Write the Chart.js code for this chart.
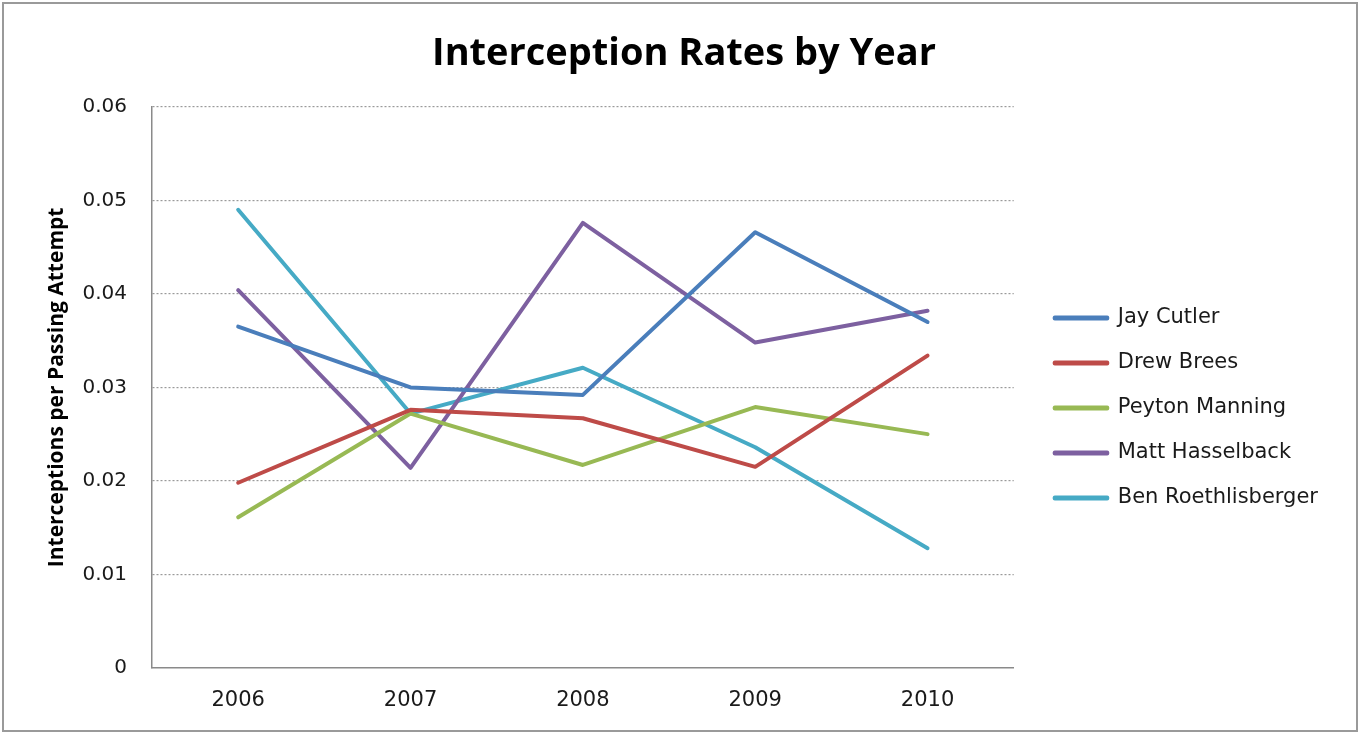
<!DOCTYPE html>
<html>
<head>
<meta charset="utf-8">
<title>Interception Rates by Year</title>
<script src="https://cdn.jsdelivr.net/npm/chart.js@4.4.1/dist/chart.umd.min.js"></script>
<style>
    html, body { margin: 0; padding: 0; background: #fff; overflow: hidden; }
    #wrap { position: relative; width: 1360px; height: 734px; }
    #frame {
        position: absolute; left: 2px; top: 2px; width: 1356px; height: 730px;
        box-sizing: border-box; border: 2px solid #9a9a9a; pointer-events: none;
    }
</style>
</head>
<body>
<div id="wrap">
    <canvas id="chart" width="1360" height="734"></canvas>
    <div id="frame"></div>
</div>
<script>
// Values
const years = ['2006', '2007', '2008', '2009', '2010'];
const yTickLabels = ['0', '0.01', '0.02', '0.03', '0.04', '0.05', '0.06'];

const jayCutler = [0.0365, 0.0300, 0.0292, 0.0466, 0.0370];
const drewBrees = [0.0198, 0.0276, 0.0267, 0.0215, 0.0334];
const peytonManning = [0.0161, 0.0272, 0.0217, 0.0279, 0.0250];
const mattHasselback = [0.0404, 0.0214, 0.0476, 0.0348, 0.0382];
const benRoethlisberger = [0.0490, 0.0272, 0.0321, 0.0236, 0.0128];

const TEXT_FONT = '"DejaVu Sans", sans-serif';
const HEAD_FONT = '"Open Sans", sans-serif';

function series(label, data, color) {
    return {
        label,
        data,
        borderColor: color,
        backgroundColor: color,
        borderWidth: 4,
        borderCapStyle: 'round',
        borderJoinStyle: 'round',
        pointRadius: 0,
        pointHoverRadius: 0,
        tension: 0,
    };
}

new Chart(document.getElementById('chart').getContext('2d'), {
    type: 'line',
    data: {
        labels: years,
        datasets: [
            series('Jay Cutler', jayCutler, '#4a7ebb'),
            series('Drew Brees', drewBrees, '#be4b48'),
            series('Peyton Manning', peytonManning, '#98b954'),
            series('Matt Hasselback', mattHasselback, '#7d60a0'),
            series('Ben Roethlisberger', benRoethlisberger, '#46aac5'),
        ],
    },
    options: {
        responsive: false,
        animation: false,
        layout: { padding: { left: 40, right: 32, top: 0, bottom: 1 } },
        plugins: {
            title: {
                display: true,
                text: 'Interception Rates by Year',
                color: '#000',
                font: { family: HEAD_FONT, size: 38, weight: 'bold' },
                padding: { top: 31, bottom: 30.4 },
            },
            legend: {
                position: 'right',
                maxWidth: 330,
                // empty title only pushes the centred items down, like the Excel legend
                title: { display: true, text: '', font: { size: 10 }, padding: { top: 71, bottom: 0 } },
                labels: {
                    color: '#1a1a1a',
                    font: { family: TEXT_FONT, size: 21 },
                    boxWidth: 52.5,
                    boxHeight: 1,
                    padding: 24,
                },
            },
            tooltip: { enabled: false },
        },
        scales: {
            x: {
                offset: true,
                grid: { display: false, drawTicks: false },
                border: { display: true, color: '#8a8a8a', width: 1.5 },
                ticks: { color: '#1a1a1a', font: { family: TEXT_FONT, size: 21 }, padding: 20 },
            },
            y: {
                min: 0,
                max: 0.06,
                afterFit: (scale) => { scale.width = 112; },
                grid: {
                    drawTicks: false,
                    color: (ctx) => ctx.tick && ctx.tick.value === 0 ? 'rgba(0,0,0,0)' : '#9a9a9a',
                    lineWidth: 1.2,
                },
                border: { display: true, color: '#8a8a8a', width: 1.5, dash: [2, 2] },
                ticks: {
                    stepSize: 0.01,
                    color: '#1a1a1a',
                    font: { family: TEXT_FONT, size: 20 },
                    padding: 25,
                    callback: (v, i) => yTickLabels[i],
                },
                title: {
                    display: true,
                    text: 'Interceptions per Passing Attempt',
                    color: '#000',
                    font: { family: HEAD_FONT, size: 21, weight: 'bold' },
                    padding: { top: 4, bottom: 4 },
                },
            },
            // empty spacer between the plot and the legend
            gap: {
                position: 'right',
                display: true,
                afterFit: (scale) => { scale.width = 17; },
                grid: { display: false, drawTicks: false },
                border: { display: false },
                ticks: { display: false },
            },
        },
    },
});
</script>
</body>
</html>
